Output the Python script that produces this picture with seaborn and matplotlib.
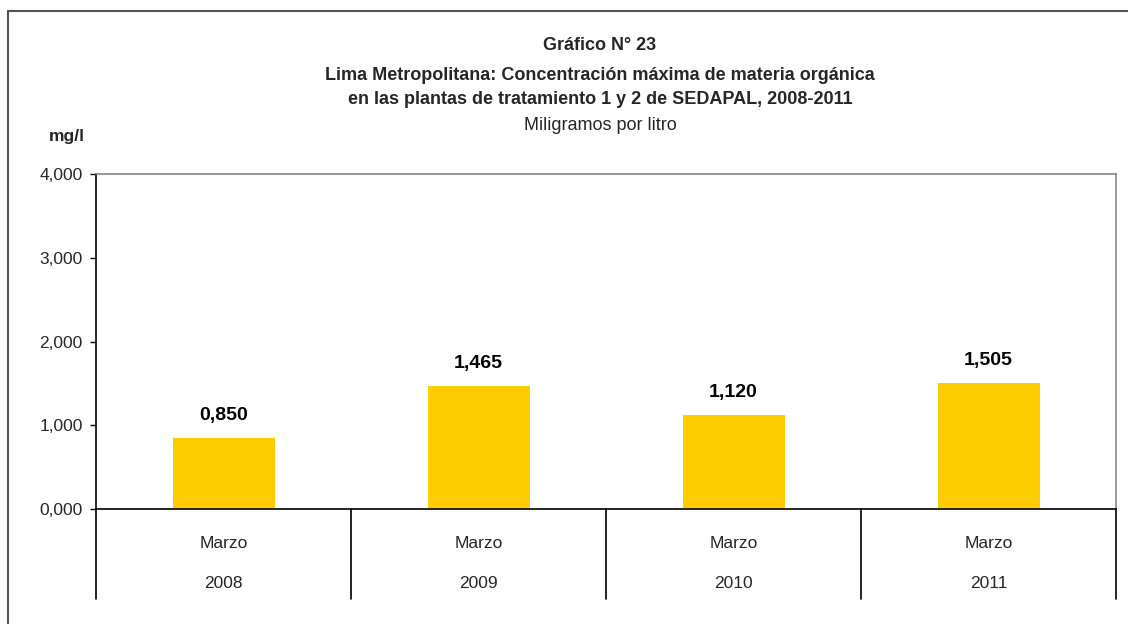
import matplotlib
matplotlib.use("Agg")
import matplotlib.pyplot as plt
import matplotlib.transforms as mtransforms
from matplotlib.lines import Line2D
import seaborn as sns
import pandas as pd

years = ["2008", "2009", "2010", "2011"]
months = ["Marzo", "Marzo", "Marzo", "Marzo"]
values = [0.850, 1.465, 1.120, 1.505]
yticks = [0, 1, 2, 3, 4]

title_lines = ["Gráfico N° 23",
               "Lima Metropolitana: Concentración máxima de materia orgánica",
               "en las plantas de tratamiento 1 y 2 de SEDAPAL, 2008-2011"]
subtitle = "Miligramos por litro"
unit = "mg/l"

sns.set_theme(style="white")
plt.rcParams['font.family'] = ['Liberation Sans', 'DejaVu Sans']

W, H = 1128, 624
fig = plt.figure(figsize=(W / 100, H / 100), dpi=100)
fig.patch.set_facecolor("white")
ax = fig.add_axes([96 / W, (H - 509) / H, (1116 - 96) / W, (509 - 174) / H])

df = pd.DataFrame({"year": years, "value": values})
sns.barplot(data=df, x="year", y="value", color="#FFCC00", width=0.4,
            saturation=1, ax=ax, edgecolor="none")

ax.set_xlim(-0.5, len(years) - 0.5)
ax.set_ylim(0, 4)
ax.set_yticks(yticks)
ax.set_yticklabels([f"{v:.3f}".replace(".", ",") for v in yticks], fontsize=12.5)
ax.tick_params(axis="y", direction="out", length=4.5, width=1, color="black", pad=5, left=True)
ax.set_xticks([])
ax.set_xlabel("")
ax.set_ylabel("")

for s in ["left", "bottom"]:
    ax.spines[s].set_color("black")
    ax.spines[s].set_linewidth(1.2)
for s in ["top", "right"]:
    ax.spines[s].set_color("#888888")
    ax.spines[s].set_linewidth(1.2)

# bar labels
for i, v in enumerate(values):
    ax.annotate(f"{v:.3f}".replace(".", ","), (i, v), xytext=(0, 10),
                textcoords="offset points", ha="center", va="bottom",
                fontsize=14, fontweight="bold", color="black")

# category separators and labels
trans = mtransforms.blended_transform_factory(ax.transData, ax.transAxes)
sep_bottom = -(599 - 509) / (509 - 174)
for k in range(len(years) + 1):
    ax.plot([k - 0.5, k - 0.5], [0, sep_bottom], transform=trans, color="black",
            lw=1.2, clip_on=False)
for i, (m, y) in enumerate(zip(months, years)):
    ax.text(i, -(543 - 509) / 335, m, transform=trans, ha="center", va="center", fontsize=12.5)
    ax.text(i, -(583 - 509) / 335, y, transform=trans, ha="center", va="center", fontsize=12.5)

# titles
cx = 600 / W
ys = [46, 75, 100]
for t, yy in zip(title_lines, ys):
    fig.text(cx, 1 - yy / H, t, ha="center", va="center", fontsize=13, fontweight="bold")
fig.text(cx, 1 - 125 / H, subtitle, ha="center", va="center", fontsize=13)
fig.text(67 / W, 1 - 137 / H, unit, ha="center", va="center", fontsize=12.5, fontweight="bold")

# outer frame (top and left)
fig.add_artist(Line2D([8 / W, 1], [1 - 11 / H, 1 - 11 / H], transform=fig.transFigure,
                      color="#555555", lw=1.5))
fig.add_artist(Line2D([8 / W, 8 / W], [0, 1 - 11 / H], transform=fig.transFigure,
                      color="#555555", lw=1.5))

fig.savefig("out.png", dpi=100, facecolor="white")
